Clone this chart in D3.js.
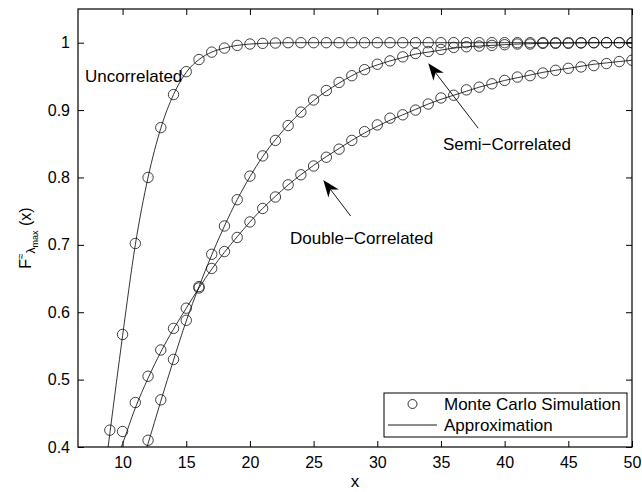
<!DOCTYPE html>
<html>
<head>
<meta charset="utf-8">
<script src="https://cdn.jsdelivr.net/npm/d3@7/dist/d3.min.js"></script>
<style>
  html, body { margin: 0; padding: 0; background: #fff; }
  svg { display: block; font-family: "Liberation Sans", Arial, Helvetica, sans-serif; }
</style>
</head>
<body>
<svg id="chart" width="642" height="492"></svg>
<script>
// Monte Carlo simulation points (x = 9..50)
const uncorrX = d3.range(9, 51);
const uncorrMC = [0.425, 0.567, 0.702, 0.800, 0.874, 0.923, 0.957, 0.975, 0.986, 0.992,
  0.996, 0.998, 0.999, 0.9995, 1, 1, 1, 1, 1, 1, 1, 1, 1, 1, 1, 1, 1, 1, 1, 1,
  1, 1, 1, 1, 1, 1, 1, 1, 1, 1, 1, 1];

const semiX = d3.range(12, 51);
const semiMC = [0.410, 0.470, 0.530, 0.588, 0.636, 0.686, 0.728, 0.767, 0.802, 0.832,
  0.855, 0.877, 0.897, 0.915, 0.929, 0.941, 0.951, 0.960, 0.968, 0.973,
  0.979, 0.984, 0.987, 0.990, 0.993, 0.994, 0.995, 0.996, 0.997, 0.998,
  0.998, 0.999, 0.999, 0.999, 0.9995, 1, 1, 1, 1];

const doubleX = d3.range(10, 51);
const doubleMC = [0.423, 0.466, 0.505, 0.544, 0.576, 0.606, 0.638, 0.665, 0.690, 0.711,
  0.734, 0.754, 0.771, 0.789, 0.804, 0.817, 0.830, 0.842, 0.855, 0.868,
  0.878, 0.888, 0.893, 0.900, 0.909, 0.918, 0.922, 0.930, 0.934, 0.939,
  0.944, 0.949, 0.951, 0.955, 0.959, 0.962, 0.964, 0.966, 0.969, 0.972, 0.974];

// Analytical approximation curves
const uncorrApproxX = d3.range(8, 51);
const uncorrApprox = [0.270, 0.420, 0.565, 0.700, 0.800, 0.873, 0.923, 0.956, 0.975, 0.986,
  0.992, 0.996, 0.998, 0.999, 0.9995, 1, 1, 1, 1, 1, 1, 1, 1, 1, 1, 1, 1, 1, 1, 1,
  1, 1, 1, 1, 1, 1, 1, 1, 1, 1, 1, 1, 1];

const semiApproxX = d3.range(11, 51);
const semiApprox = [0.345, 0.405, 0.468, 0.529, 0.587, 0.638, 0.685, 0.728, 0.767, 0.801,
  0.831, 0.856, 0.878, 0.897, 0.914, 0.928, 0.940, 0.951, 0.960, 0.967,
  0.973, 0.978, 0.983, 0.986, 0.989, 0.992, 0.994, 0.995, 0.996, 0.997,
  0.998, 0.9985, 0.999, 0.9993, 0.9995, 0.9997, 1, 1, 1, 1];

const doubleApproxX = d3.range(9, 51);
const doubleApprox = [0.358, 0.405, 0.458, 0.502, 0.541, 0.575, 0.606, 0.636, 0.664, 0.689,
  0.712, 0.734, 0.754, 0.772, 0.789, 0.804, 0.818, 0.831, 0.843, 0.855,
  0.866, 0.876, 0.885, 0.893, 0.901, 0.909, 0.916, 0.922, 0.928, 0.934,
  0.939, 0.944, 0.948, 0.952, 0.956, 0.959, 0.962, 0.965, 0.968, 0.970, 0.972, 0.974];

// Axis ticks
const xTicks = [10, 15, 20, 25, 30, 35, 40, 45, 50];
const yTicks = [0.4, 0.5, 0.6, 0.7, 0.8, 0.9, 1];

// Text annotations with arrows (data coordinates)
const labels = [
  { text: "Uncorrelated", x: 7.05, y: 0.9415 },
  { text: "Semi\u2212Correlated", x: 35.15, y: 0.8405 },
  { text: "Double\u2212Correlated", x: 23.15, y: 0.701 }
];
const arrows = [
  { from: [37.93, 0.873], to: [34.0, 0.9695] },
  { from: [27.91, 0.7428], to: [25.76, 0.7963] }
];

const legendItems = ["Monte Carlo Simulation", "Approximation"];

// Layout
const W = 642, H = 492;
const m = { left: 78, right: 632, top: 9, bottom: 447 };

const x = d3.scaleLinear().domain([6.5, 50]).range([m.left, m.right]);
const y = d3.scaleLinear().domain([0.4, 1.05]).range([m.bottom, m.top]);

const svg = d3.select("#chart");
svg.append("rect").attr("width", W).attr("height", H).attr("fill", "#fff");

svg.append("defs").append("clipPath").attr("id", "plotClip")
  .append("rect")
  .attr("x", m.left).attr("y", m.top)
  .attr("width", m.right - m.left).attr("height", m.bottom - m.top);

const plot = svg.append("g").attr("clip-path", "url(#plotClip)");

const line = d3.line()
  .x(d => x(d[0])).y(d => y(d[1]))
  .curve(d3.curveMonotoneX);

const approxSets = [
  d3.zip(uncorrApproxX, uncorrApprox),
  d3.zip(semiApproxX, semiApprox),
  d3.zip(doubleApproxX, doubleApprox)
];
approxSets.forEach(s => {
  plot.append("path").datum(s)
    .attr("d", line)
    .attr("fill", "none")
    .attr("stroke", "#111")
    .attr("stroke-width", 0.85);
});

const mcSets = [
  d3.zip(uncorrX, uncorrMC),
  d3.zip(semiX, semiMC),
  d3.zip(doubleX, doubleMC)
];
mcSets.forEach(s => {
  plot.append("g").selectAll("circle").data(s).join("circle")
    .attr("cx", d => x(d[0])).attr("cy", d => y(d[1]))
    .attr("r", 5.2)
    .attr("fill", "none")
    .attr("stroke", "#111")
    .attr("stroke-width", 0.8);
});

// Axes: ticks on all four sides, pointing inward
const tickLen = 6;
const axFont = 16;
const gx = svg.append("g").attr("transform", `translate(0,${m.bottom})`)
  .call(d3.axisBottom(x).tickValues(xTicks).tickSize(-tickLen).tickPadding(10).tickFormat(d3.format("d")));
const gxTop = svg.append("g").attr("transform", `translate(0,${m.top})`)
  .call(d3.axisTop(x).tickValues(xTicks).tickSize(-tickLen).tickFormat(""));
const gy = svg.append("g").attr("transform", `translate(${m.left},0)`)
  .call(d3.axisLeft(y).tickValues(yTicks).tickSize(-tickLen).tickPadding(8)
    .tickFormat(d => d === 1 ? "1" : d3.format(".1f")(d)));
const gyR = svg.append("g").attr("transform", `translate(${m.right},0)`)
  .call(d3.axisRight(y).tickValues(yTicks).tickSize(-tickLen).tickFormat(""));

[gx, gxTop, gy, gyR].forEach(g => {
  g.select(".domain").remove();
  g.selectAll(".tick line").attr("stroke", "#000").attr("stroke-width", 1);
  g.selectAll(".tick text").attr("fill", "#000").attr("font-size", axFont)
    .attr("font-family", "'Liberation Sans', Arial, sans-serif");
});

svg.append("rect")
  .attr("x", m.left).attr("y", m.top)
  .attr("width", m.right - m.left).attr("height", m.bottom - m.top)
  .attr("fill", "none").attr("stroke", "#000").attr("stroke-width", 1.2);

// Axis titles
svg.append("text")
  .attr("x", (m.left + m.right) / 2).attr("y", 487)
  .attr("text-anchor", "middle").attr("font-size", 17).text("x");

const yl = svg.append("text")
  .attr("transform", "translate(31,238) rotate(-90)")
  .attr("text-anchor", "middle").attr("font-size", 16);
yl.append("tspan").text("F");
yl.append("tspan").attr("font-size", 10).attr("dy", -7).text("\u2248");
yl.append("tspan").attr("font-size", 12).attr("dy", 11).text("\u03bb");
yl.append("tspan").attr("font-size", 9).attr("dy", 3).text("max");
yl.append("tspan").attr("dy", -7).text("\u00a0(x)");

// Curve labels
svg.append("g").selectAll("text").data(labels).join("text")
  .attr("x", d => x(d.x)).attr("y", d => y(d.y))
  .attr("font-size", 17).attr("fill", "#000")
  .text(d => d.text);

// Arrows with filled notched heads
arrows.forEach(a => {
  const x0 = x(a.from[0]), y0 = y(a.from[1]);
  const x1 = x(a.to[0]), y1 = y(a.to[1]);
  const ang = Math.atan2(y1 - y0, x1 - x0);
  const L = 17, hw = 6.5, notch = 12;
  const ux = Math.cos(ang), uy = Math.sin(ang);
  const px = -uy, py = ux;
  const bx = x1 - ux * L, by = y1 - uy * L;
  const nx = x1 - ux * notch, ny = y1 - uy * notch;
  svg.append("line")
    .attr("x1", x0).attr("y1", y0).attr("x2", nx).attr("y2", ny)
    .attr("stroke", "#000").attr("stroke-width", 0.9);
  svg.append("path")
    .attr("d", `M${x1},${y1}L${bx + px * hw},${by + py * hw}L${nx},${ny}L${bx - px * hw},${by - py * hw}Z`)
    .attr("fill", "#000");
});

// Legend
const lg = { x: 384, y: 393, w: 243, h: 44 };
const legend = svg.append("g");
legend.append("rect")
  .attr("x", lg.x).attr("y", lg.y).attr("width", lg.w).attr("height", lg.h)
  .attr("fill", "#fff").attr("stroke", "#000").attr("stroke-width", 1);
legend.append("circle")
  .attr("cx", 412.5).attr("cy", 404).attr("r", 4.5)
  .attr("fill", "none").attr("stroke", "#000").attr("stroke-width", 0.8);
legend.append("line")
  .attr("x1", 388).attr("x2", 437).attr("y1", 425).attr("y2", 425)
  .attr("stroke", "#000").attr("stroke-width", 0.9);
legend.selectAll("text.lgt").data(legendItems).join("text")
  .attr("class", "lgt")
  .attr("x", 444).attr("y", (d, i) => 410 + i * 21)
  .attr("font-size", 17).attr("fill", "#000")
  .text(d => d);
</script>
</body>
</html>
